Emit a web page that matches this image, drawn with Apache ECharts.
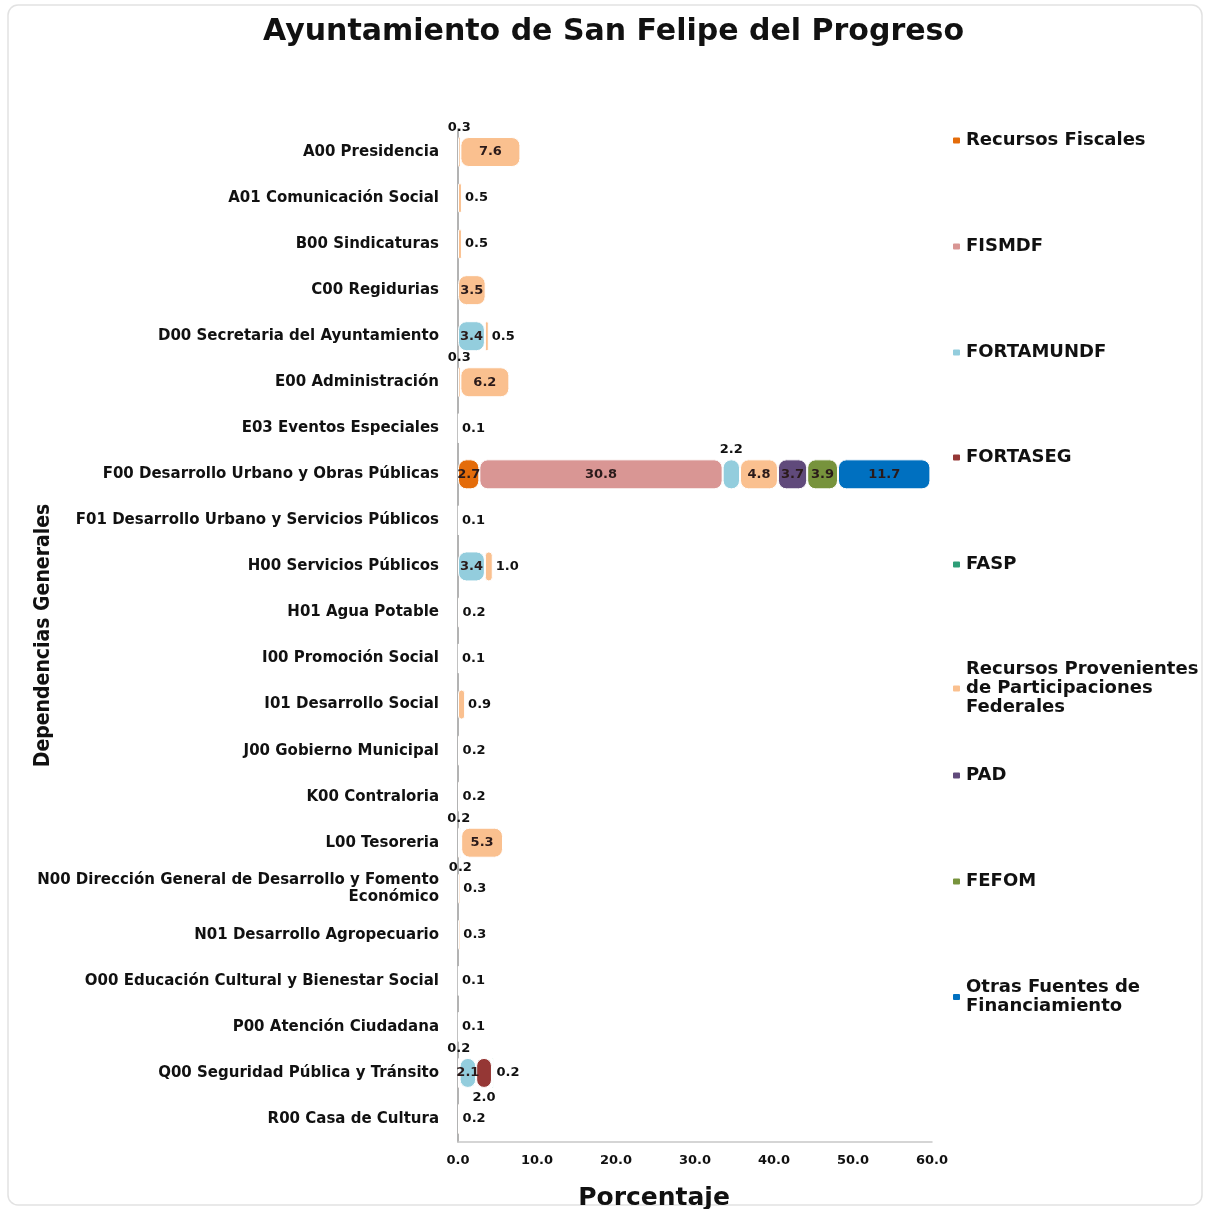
<!DOCTYPE html>
<html>
<head>
<meta charset="utf-8">
<script src="https://cdn.jsdelivr.net/npm/echarts@6/dist/echarts.min.js"></script>
<style>
  html, body { margin: 0; padding: 0; background: #fff; }
  #chart { width: 1206px; height: 1209px; }
</style>
</head>
<body>
<div id="chart"></div>
<script>
const categories = [
  'A00 Presidencia', 'A01 Comunicación Social', 'B00 Sindicaturas', 'C00 Regidurias',
  'D00 Secretaria del Ayuntamiento', 'E00 Administración', 'E03 Eventos Especiales',
  'F00 Desarrollo Urbano y Obras Públicas', 'F01 Desarrollo Urbano y Servicios Públicos',
  'H00 Servicios Públicos', 'H01 Agua Potable', 'I00 Promoción Social', 'I01 Desarrollo Social',
  'J00 Gobierno Municipal', 'K00 Contraloria', 'L00 Tesoreria',
  'N00 Dirección General de Desarrollo y Fomento\nEconómico', 'N01 Desarrollo Agropecuario',
  'O00 Educación Cultural y Bienestar Social', 'P00 Atención Ciudadana',
  'Q00 Seguridad Pública y Tránsito', 'R00 Casa de Cultura'
];

const seriesNames = [
  'Recursos Fiscales', 'FISMDF', 'FORTAMUNDF', 'FORTASEG', 'FASP',
  'Recursos Provenientes de Participaciones Federales', 'PAD', 'FEFOM',
  'Otras Fuentes de Financiamiento'
];

const recursosFiscales = [0.3, null, null, null, null, 0.3, null, 2.7, null, null, null, null, null, null, null, 0.2, null, null, null, null, null, null];
const fismdf           = [null, null, null, null, null, null, null, 30.8, null, null, null, null, null, null, null, null, null, null, null, null, 0.2, null];
const fortamundf       = [null, null, null, null, 3.4, null, null, 2.2, null, 3.4, null, null, null, null, null, 0.2, null, null, null, null, 2.1, null];
const fortaseg         = [null, null, null, null, null, null, null, null, null, null, null, null, null, null, null, null, null, null, null, null, 2.0, null];
const fasp             = [null, null, null, null, null, null, null, null, null, null, null, null, null, null, null, null, null, null, null, null, 0.2, null];
const participaciones  = [7.6, 0.5, 0.5, 3.5, 0.5, 6.2, 0.1, 4.8, 0.1, 1.0, 0.2, 0.1, 0.9, 0.2, 0.2, 5.3, 0.3, 0.3, 0.1, 0.1, null, 0.2];
const pad              = [null, null, null, null, null, null, null, 3.7, null, null, null, null, null, null, null, null, null, null, null, null, null, null];
const fefom            = [null, null, null, null, null, null, null, 3.9, null, null, null, null, null, null, null, null, null, null, null, null, null, null];
const otras            = [null, null, null, null, null, null, null, 11.7, null, null, null, null, null, null, null, null, null, null, null, null, null, null];

const xTicks = [0, 10, 20, 30, 40, 50, 60];

const FONT = 'DejaVu Sans';
const allValues = [recursosFiscales, fismdf, fortamundf, fortaseg, fasp, participaciones, pad, fefom, otras];
const colors = ['#e46c0a', '#d99694', '#93cddd', '#953735', '#2e9e78', '#fac08f', '#604a7b', '#77933c', '#0070c0'];
const legendTops = [136, 242, 348, 453, 560, 665, 771, 877, 983];
const legendLabels = {
  'Recursos Provenientes de Participaciones Federales': 'Recursos Provenientes\nde Participaciones\nFederales',
  'Otras Fuentes de Financiamiento': 'Otras Fuentes de\nFinanciamiento'
};

// label placement per row: wide segments inside, small ones above/below or to the right when last
const labelPos = allValues.map(() => []);
categories.forEach((c, i) => {
  let total = 0, last = -1, small = 0;
  allValues.forEach((arr, s) => { if (arr[i] != null) { total += arr[i]; last = s; } });
  allValues.forEach((arr, s) => {
    const v = arr[i];
    if (v == null) return;
    if (v >= 2.05 && !(v < 2.5 && total > 20)) labelPos[s][i] = 'inside';
    else if (s === last) labelPos[s][i] = 'right';
    else { labelPos[s][i] = small % 2 === 0 ? 'top' : 'bottom'; small++; }
  });
});

const series = seriesNames.map((name, s) => ({
  name: name,
  type: 'bar',
  stack: 'total',
  barWidth: 30,
  itemStyle: {
    color: colors[s],
    borderRadius: 8,
    borderColor: '#fff',
    borderWidth: 1
  },
  label: {
    show: true,
    formatter: p => p.value.toFixed(1),
    fontFamily: FONT,
    fontWeight: 'bold',
    fontSize: 13,
    color: '#111',
    distance: 3
  },
  data: allValues[s].map((v, i) => v == null ? '-' : {
    value: v,
    label: { position: labelPos[s][i], color: labelPos[s][i] === 'inside' ? '#2a1a1a' : '#111' }
  })
}));

const legends = seriesNames.map((name, s) => ({
  data: [name],
  left: 946,
  top: legendTops[s] - 10,
  orient: 'vertical',
  itemWidth: 9,
  itemHeight: 8,
  itemGap: 4,
  selectedMode: false,
  formatter: n => legendLabels[n] || n,
  textStyle: {
    fontFamily: FONT,
    fontWeight: 'bold',
    fontSize: 18,
    color: '#111',
    lineHeight: 19
  }
}));

const chart = echarts.init(document.getElementById('chart'));
chart.setOption({
  backgroundColor: '#fff',
  animation: false,
  title: {
    text: 'Ayuntamiento de San Felipe del Progreso',
    left: 258,
    top: 12,
    textStyle: { fontFamily: FONT, fontWeight: 'bold', fontSize: 30, color: '#111' }
  },
  graphic: [{
    type: 'rect',
    shape: { x: 8, y: 5, width: 1194, height: 1200, r: 10 },
    style: { fill: 'none', stroke: '#e2e2e2', lineWidth: 1.5 },
    silent: true,
    z: -1
  }],
  legend: legends,
  grid: { left: 458, right: 274, top: 129, bottom: 67, outerBoundsMode: 'none' },
  xAxis: {
    type: 'value',
    min: xTicks[0],
    max: xTicks[xTicks.length - 1],
    interval: 10,
    name: 'Porcentaje',
    nameLocation: 'middle',
    nameGap: 44,
    nameMoveOverlap: false,
    nameTextStyle: { fontFamily: FONT, fontWeight: 'bold', fontSize: 25, color: '#111', padding: [0, 82, 0, 0] },
    axisLine: { show: true, lineStyle: { color: '#c8c8c8', width: 1.5 } },
    axisTick: { show: false },
    splitLine: { show: false },
    axisLabel: {
      margin: 12,
      formatter: v => v.toFixed(1),
      fontFamily: FONT, fontWeight: 'bold', fontSize: 13, color: '#111'
    }
  },
  yAxis: {
    type: 'category',
    inverse: true,
    data: categories,
    name: 'Dependencias Generales',
    nameLocation: 'middle',
    nameGap: 404,
    nameRotate: 90,
    nameMoveOverlap: false,
    nameTextStyle: { fontFamily: 'DejaVu Sans Condensed, Liberation Sans Narrow, DejaVu Sans', fontWeight: 'bold', fontSize: 21, color: '#111' },
    axisLine: { show: true, lineStyle: { color: '#9a9a9a', width: 1.5 } },
    axisTick: { show: false },
    axisLabel: {
      margin: 19,
      fontFamily: FONT, fontWeight: 'bold', fontSize: 15, color: '#111',
      align: 'right', lineHeight: 17
    }
  },
  series: series
});
</script>
</body>
</html>
